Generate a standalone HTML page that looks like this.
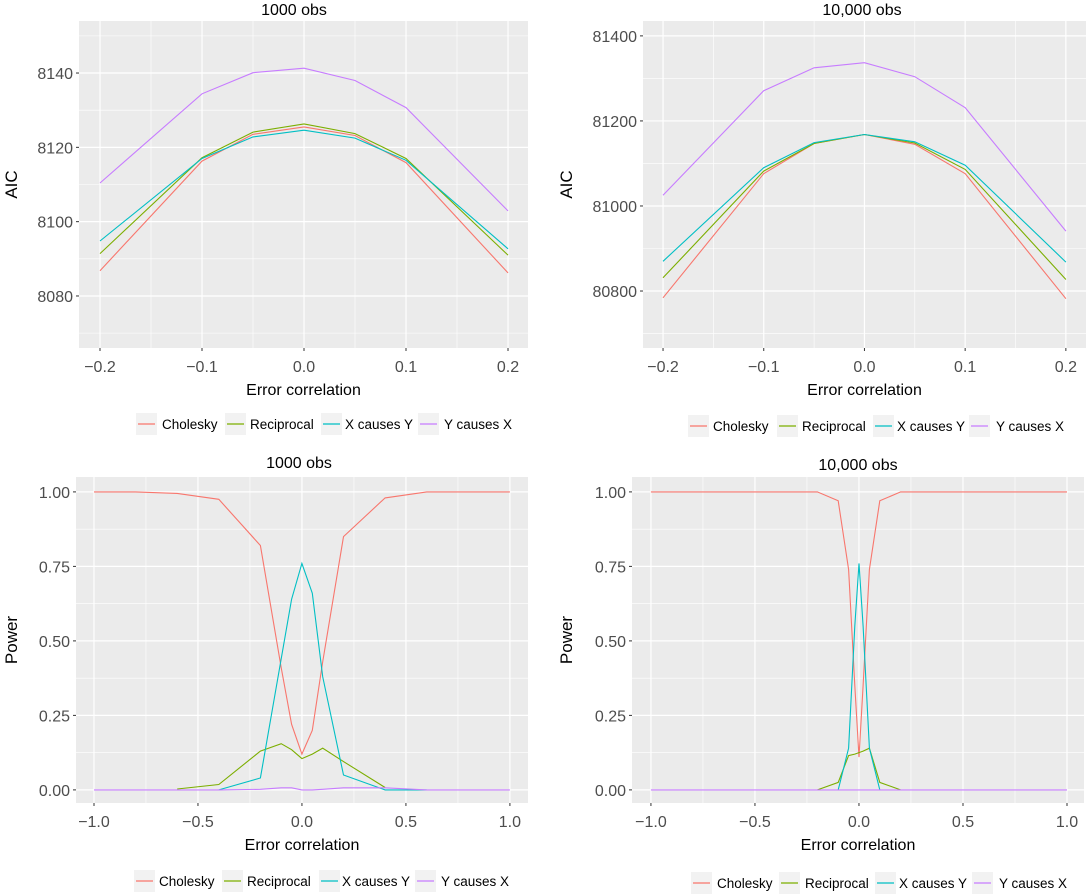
<!DOCTYPE html>
<html><head><meta charset="utf-8"><style>
body{margin:0;background:#fff;}
svg{display:block;font-family:"Liberation Sans",Arial,sans-serif;}
</style></head><body>
<svg id="fig" width="1086" height="895" viewBox="0 0 1086 895" xmlns="http://www.w3.org/2000/svg"></svg>
<script>
// ---- data ----
const seriesNames = ["Cholesky","Reciprocal","X causes Y","Y causes X"];
const seriesColors = ["#F8766D","#7CAE00","#00BFC4","#C77CFF"];

const aicX = [-0.2,-0.1,-0.05,0,0.05,0.1,0.2];
const aic1000Chol = [8086.8,8116.3,8123.5,8125.5,8123.2,8115.9,8086.2];
const aic1000Recip = [8091.4,8117.2,8124.1,8126.3,8123.7,8117.0,8091.0];
const aic1000XY = [8094.8,8117.0,8122.8,8124.6,8122.5,8116.5,8092.7];
const aic1000YX = [8110.4,8134.4,8140.1,8141.3,8138.0,8130.7,8102.9];
const aic10kChol = [80784,81076,81147,81168,81145,81076,80782];
const aic10kRecip = [80831,81082,81147,81168,81148,81086,80827];
const aic10kXY = [80870,81090,81149,81168,81151,81096,80868];
const aic10kYX = [81025,81271,81325,81337,81304,81231,80941];

const pow1000X = [-1,-0.8,-0.6,-0.4,-0.2,-0.1,-0.05,0,0.05,0.1,0.2,0.4,0.6,0.8,1];
const pow1000Chol = [1,1,0.995,0.975,0.82,0.41,0.22,0.12,0.20,0.43,0.85,0.98,1,1,1];
const pow1000Recip = [null,null,0.003,0.018,0.13,0.155,0.135,0.105,0.12,0.14,0.095,0.008,null,null,null];
const pow1000XY = [null,null,null,0,0.04,0.44,0.64,0.76,0.66,0.38,0.05,0,0,null,null];
const pow1000YX = [0,0,0,0,0.002,0.007,0.007,0,0,0.002,0.007,0.007,0,0,0];

const pow10kX = [-1,-0.2,-0.1,-0.05,-0.02,0,0.02,0.05,0.1,0.2,1];
const pow10kChol = [1,1,0.97,0.74,0.35,0.11,0.35,0.74,0.97,1,1];
const pow10kRecip = [null,0,0.025,0.115,0.12,0.125,0.13,0.14,0.025,0,null];
const pow10kXY = [null,null,0,0.14,0.55,0.76,0.55,0.14,0,null,null];
const pow10kYX = [0,0,0,0,0,0,0,0,0,0,0];

const aic1000YTicks = [8080,8100,8120,8140];
const aic10kYTicks = [80800,81000,81200,81400];
const aicXTicks = [-0.2,-0.1,0,0.1,0.2];
const aicXTickLabels = ["\u22120.2","\u22120.1","0.0","0.1","0.2"];
const powYTicks = [0,0.25,0.5,0.75,1];
const powYTickLabels = ["0.00","0.25","0.50","0.75","1.00"];
const powXTicks = [-1,-0.5,0,0.5,1];
const powXTickLabels = ["\u22121.0","\u22120.5","0.0","0.5","1.0"];

const NS="http://www.w3.org/2000/svg";
const svg=document.getElementById('fig');
function mk(tag,attrs,parent){const e=document.createElementNS(NS,tag);for(const k in attrs)e.setAttribute(k,attrs[k]);(parent||svg).appendChild(e);return e;}

function panel(o){
  const g=mk('g',{});
  
  
  const X=v=>o.px0+(v-o.xd[0])/(o.xd[1]-o.xd[0])*(o.px1-o.px0);
  const Y=v=>o.py1-(v-o.yd[0])/(o.yd[1]-o.yd[0])*(o.py1-o.py0);
  const bg=mk('rect',{x:o.px0,y:o.py0,width:o.px1-o.px0,height:o.py1-o.py0,fill:'#EBEBEB'},g);
  
  
  o.xMinor.forEach(v=>mk('line',{x1:X(v),x2:X(v),y1:o.py0,y2:o.py1,stroke:'#fff','stroke-width':0.6},g));
  o.yMinor.forEach(v=>mk('line',{x1:o.px0,x2:o.px1,y1:Y(v),y2:Y(v),stroke:'#fff','stroke-width':0.6},g));
  o.xTicks.forEach(v=>mk('line',{x1:X(v),x2:X(v),y1:o.py0,y2:o.py1,stroke:'#fff','stroke-width':1.2},g));
  o.yTicks.forEach(v=>mk('line',{x1:o.px0,x2:o.px1,y1:Y(v),y2:Y(v),stroke:'#fff','stroke-width':1.2},g));
  o.xTicks.forEach((v,i)=>{
    mk('line',{x1:X(v),x2:X(v),y1:o.py1,y2:o.py1+3,stroke:'#333','stroke-width':1},g);
    const t=mk('text',{x:X(v),y:o.py1+24,'text-anchor':'middle','font-size':16,fill:'#4D4D4D'},g);
    t.textContent=o.xLabels[i];
    
    
  });
  o.yTicks.forEach((v,i)=>{
    mk('line',{x1:o.px0-3,x2:o.px0,y1:Y(v),y2:Y(v),stroke:'#333','stroke-width':1},g);
    const t=mk('text',{x:o.px0-6,y:Y(v)+6,'text-anchor':'end','font-size':16,fill:'#4D4D4D'},g);
    t.textContent=o.yLabels[i];
    
    
  });
  o.series.forEach((ys,si)=>{
    let d='',pen=false;
    ys.forEach((v,i)=>{
      if(v===null){pen=false;return;}
      d+=(pen?'L':'M')+X(o.xs[i]).toFixed(1)+','+Y(v).toFixed(1);pen=true;
    });
    const p=mk('path',{d:d,fill:'none',stroke:seriesColors[si],'stroke-width':1.1},g);
    
    
  });
  const ti=mk('text',{x:o.titleX,y:o.titleY,'text-anchor':'middle','font-size':16,fill:'#000'},g);
  ti.textContent=o.title;
  
  
  const xl=mk('text',{x:(o.px0+o.px1)/2,y:o.py1+47,'text-anchor':'middle','font-size':16,fill:'#000'},g);
  xl.textContent='Error correlation';
  
  
  const yc=(o.py0+o.py1)/2;
  const yl=mk('text',{x:o.yTitleX,y:yc,'text-anchor':'middle','font-size':17,fill:'#000',transform:'rotate(-90 '+o.yTitleX+' '+yc+')'},g);
  yl.textContent=o.yTitle;
  
  
  const lg=mk('g',{},g);
  
  
  o.legKeys.forEach((kx,i)=>{
    const e=mk('g',{},lg);
    
    
    mk('rect',{x:kx,y:o.legY-11,width:21,height:22,fill:'#F2F2F2'},e);
    mk('line',{x1:kx+2,x2:kx+19,y1:o.legY,y2:o.legY,stroke:seriesColors[i],'stroke-width':1.3},e);
    const t=mk('text',{x:o.legText[i],y:o.legY+5,'font-size':13.5,fill:'#000'},e);
    t.textContent=seriesNames[i];
  });
}

panel({name:'panel-aic-1000',px0:79,px1:528,py0:21,py1:348,xd:[-0.2206,0.2196],yd:[8066,8154],
  xs:aicX,series:[aic1000Chol,aic1000Recip,aic1000XY,aic1000YX],
  xTicks:aicXTicks,xLabels:aicXTickLabels,yTicks:aic1000YTicks,yLabels:aic1000YTicks.map(String),
  xMinor:[-0.15,-0.05,0.05,0.15],yMinor:[8070,8090,8110,8130,8150],
  title:'1000 obs',titleX:294,titleY:15,yTitle:'AIC',yTitleX:17,
  legY:424,legKeys:[136,225,321,418],legText:[162,250,345,444]});

panel({name:'panel-aic-10000',px0:643,px1:1086,py0:21,py1:348,xd:[-0.2199,0.22],yd:[80666,81435],
  xs:aicX,series:[aic10kChol,aic10kRecip,aic10kXY,aic10kYX],
  xTicks:aicXTicks,xLabels:aicXTickLabels,yTicks:aic10kYTicks,yLabels:aic10kYTicks.map(String),
  xMinor:[-0.15,-0.05,0.05,0.15],yMinor:[80700,80900,81100,81300],
  title:'10,000 obs',titleX:862,titleY:15,yTitle:'AIC',yTitleX:572,
  legY:426,legKeys:[688,777,873,969],legText:[713,802,897,996]});

panel({name:'panel-power-1000',px0:76,px1:528,py0:477,py1:803,xd:[-1.0865,1.087],yd:[-0.044,1.05],
  xs:pow1000X,series:[pow1000Chol,pow1000Recip,pow1000XY,pow1000YX],
  xTicks:powXTicks,xLabels:powXTickLabels,yTicks:powYTicks,yLabels:powYTickLabels,
  xMinor:[-0.75,-0.25,0.25,0.75],yMinor:[0.125,0.375,0.625,0.875],
  title:'1000 obs',titleX:299,titleY:468,yTitle:'Power',yTitleX:17,
  legY:881,legKeys:[134,222,319,415],legText:[159,247,342,441]});

panel({name:'panel-power-10000',px0:632,px1:1084,py0:477,py1:803,xd:[-1.091,1.0817],yd:[-0.044,1.05],
  xs:pow10kX,series:[pow10kChol,pow10kRecip,pow10kXY,pow10kYX],
  xTicks:powXTicks,xLabels:powXTickLabels,yTicks:powYTicks,yLabels:powYTickLabels,
  xMinor:[-0.75,-0.25,0.25,0.75],yMinor:[0.125,0.375,0.625,0.875],
  title:'10,000 obs',titleX:858,titleY:470,yTitle:'Power',yTitleX:572,
  legY:883,legKeys:[691,779,875,972],legText:[717,805,899,999]});
</script>
</body></html>
